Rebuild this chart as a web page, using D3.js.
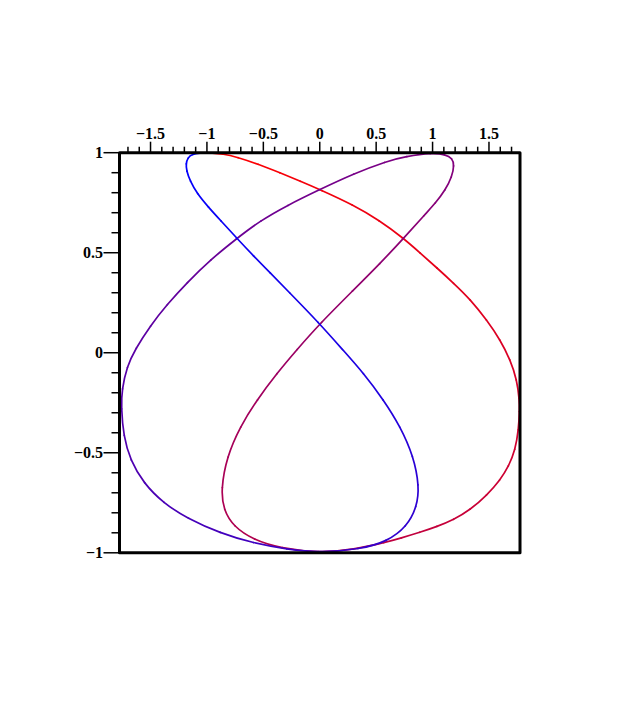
<!DOCTYPE html>
<html>
<head>
<meta charset="utf-8">
<script src="https://cdn.jsdelivr.net/npm/d3@7/dist/d3.min.js"></script>
<style>
  body { margin: 0; background: #fff; }
  .tick-label { font-family: "Liberation Serif", "DejaVu Serif", serif; font-size: 16px; font-weight: bold; }
</style>
</head>
<body>
<svg id="chart" width="640" height="706"></svg>
<script>
// curve, in plot units, in drawing order (red -> blue)
var curveX = [
  // red: top left, round the right side, to the bottom
  -1.00, -0.85, -0.734, -0.55, -0.35, -0.17, 0.00, 0.30, 0.527, 0.743, 0.891, 1.039, 1.186, 1.334,
  1.482, 1.600, 1.689, 1.748, 1.769, 1.771, 1.762, 1.733, 1.674, 1.600, 1.482, 1.334, 1.186, 1.039,
  0.891, 0.714, 0.596, 0.30, 0.00,
  // crimson: left inner loop, up the diagonal to the right tip
  -0.350, -0.587, -0.764, -0.853, -0.876, -0.823, -0.705, -0.557, -0.379, -0.205, 0.00,
  0.30, 0.536, 0.743, 0.940, 1.024, 1.113, 1.172, 1.192, 1.175, 1.113, 1.00,
  // purple: back across the top, round the left side, to the bottom
  0.758, 0.596, 0.30, 0.00, -0.291, -0.527, -0.734, -0.971, -1.177, -1.355, -1.502, -1.636,
  -1.709, -1.754, -1.760, -1.739, -1.680, -1.562, -1.385, -1.177, -0.882, -0.587, -0.291, 0.00,
  // blue: right inner loop, up the diagonal to the left tip
  0.359, 0.596, 0.773, 0.862, 0.882, 0.832, 0.714, 0.566, 0.388, 0.205, 0.00,
  -0.291, -0.439, -0.587, -0.734, -0.882, -0.986, -1.089, -1.150, -1.181, -1.186, -1.170, -1.130,
  -1.060, -1.00
];
var curveY = [
  1.00, 0.994, 0.978, 0.944, 0.899, 0.857, 0.816, 0.738, 0.662, 0.572, 0.498, 0.424, 0.348, 0.267,
  0.162, 0.064, -0.036, -0.136, -0.236, -0.286, -0.386, -0.485, -0.569, -0.635, -0.712, -0.785, -0.835, -0.869,
  -0.897, -0.927, -0.946, -0.984, -1.00,
  -0.977, -0.935, -0.869, -0.785, -0.685, -0.519, -0.369, -0.236, -0.102, 0.014, 0.145,
  0.314, 0.447, 0.572, 0.696, 0.747, 0.813, 0.880, 0.938, 0.972, 0.991, 1.00,
  0.981, 0.958, 0.895, 0.816, 0.736, 0.660, 0.572, 0.464, 0.350, 0.240, 0.135, 0.017,
  -0.069, -0.186, -0.269, -0.419, -0.535, -0.652, -0.752, -0.827, -0.902, -0.952, -0.982, -1.00,
  -0.982, -0.944, -0.869, -0.769, -0.669, -0.519, -0.369, -0.236, -0.102, 0.014, 0.145,
  0.314, 0.399, 0.484, 0.572, 0.663, 0.727, 0.797, 0.860, 0.910, 0.945, 0.975, 0.993,
  0.999, 1.00
];
var xDomain = [-1.775, 1.775];
var yDomain = [-1, 1];
var xMajorTicks = [-1.5, -1, -0.5, 0, 0.5, 1, 1.5];
var xMinorTicks = [-1.7, -1.6, -1.4, -1.3, -1.2, -1.1, -0.9, -0.8, -0.7, -0.6, -0.4, -0.3, -0.2, -0.1,
                   0.1, 0.2, 0.3, 0.4, 0.6, 0.7, 0.8, 0.9, 1.1, 1.2, 1.3, 1.4, 1.6, 1.7];
var yMajorTicks = [-1, -0.5, 0, 0.5, 1];
var yMinorTicks = [-0.9, -0.8, -0.7, -0.6, -0.4, -0.3, -0.2, -0.1, 0.1, 0.2, 0.3, 0.4, 0.6, 0.7, 0.8, 0.9];

var box = {left: 119.5, right: 520, top: 152.7, bottom: 552.8};

var x = d3.scaleLinear().domain(xDomain).range([box.left, box.right]);
var y = d3.scaleLinear().domain(yDomain).range([box.bottom, box.top]);

var svg = d3.select("#chart");

function fmt(v) { return String(v).replace("-", "\u2212"); }

// curve: let d3's b-spline build the pieces, then draw each one in its own colour
var pts = curveX.map(function(v, i) { return [x(v), y(curveY[i])]; });
var pieces = [], last = null;
var recorder = {
  moveTo: function(a, b) { last = [a, b]; },
  lineTo: function(a, b) { pieces.push({d: "M" + last + "L" + a + "," + b, a: last, b: [a, b]}); last = [a, b]; },
  bezierCurveTo: function(c1x, c1y, c2x, c2y, a, b) {
    pieces.push({d: "M" + last + "C" + [c1x, c1y, c2x, c2y, a, b].join(","), a: last, b: [a, b]});
    last = [a, b];
  },
  closePath: function() {}
};
d3.line().curve(d3.curveBasis).context(recorder)(pts);

// colour along the curve by arc length
var lens = pieces.map(function(p) { return Math.hypot(p.b[0] - p.a[0], p.b[1] - p.a[1]); });
var total = d3.sum(lens), run = 0;
var color = d3.interpolateRgb("#ff0000", "#0000ff");

svg.append("g")
  .selectAll("path")
  .data(pieces)
  .enter().append("path")
    .attr("d", function(d) { return d.d; })
    .attr("fill", "none")
    .attr("stroke-width", 1.7)
    .attr("stroke-linecap", "round")
    .attr("stroke", function(d, i) {
      var mid = run + lens[i] / 2;
      run += lens[i];
      return color(mid / total);
    });

// box
svg.append("rect")
  .attr("x", box.left).attr("y", box.top)
  .attr("width", box.right - box.left).attr("height", box.bottom - box.top)
  .attr("fill", "none")
  .attr("stroke", "#000")
  .attr("stroke-width", 3)
  .attr("stroke-linejoin", "round");

// top axis
var topAxis = svg.append("g");
topAxis.selectAll(".minor")
  .data(xMinorTicks)
  .enter().append("line")
    .attr("x1", function(d) { return x(d); }).attr("x2", function(d) { return x(d); })
    .attr("y1", box.top).attr("y2", box.top - 6)
    .attr("stroke", "#000").attr("stroke-width", 1.5);
topAxis.selectAll(".major")
  .data(xMajorTicks)
  .enter().append("line")
    .attr("x1", function(d) { return x(d); }).attr("x2", function(d) { return x(d); })
    .attr("y1", box.top).attr("y2", box.top - 11)
    .attr("stroke", "#000").attr("stroke-width", 1.5);
topAxis.selectAll("text")
  .data(xMajorTicks)
  .enter().append("text")
    .attr("class", "tick-label")
    .attr("x", function(d) { return x(d); })
    .attr("y", box.top - 13.7)
    .style("text-anchor", "middle")
    .text(fmt);

// left axis
var leftAxis = svg.append("g");
leftAxis.selectAll(".minor")
  .data(yMinorTicks)
  .enter().append("line")
    .attr("y1", function(d) { return y(d); }).attr("y2", function(d) { return y(d); })
    .attr("x1", box.left).attr("x2", box.left - 8)
    .attr("stroke", "#000").attr("stroke-width", 1.5);
leftAxis.selectAll(".major")
  .data(yMajorTicks)
  .enter().append("line")
    .attr("y1", function(d) { return y(d); }).attr("y2", function(d) { return y(d); })
    .attr("x1", box.left).attr("x2", box.left - 16)
    .attr("stroke", "#000").attr("stroke-width", 1.5);
leftAxis.selectAll("text")
  .data(yMajorTicks)
  .enter().append("text")
    .attr("class", "tick-label")
    .attr("x", box.left - 16.5)
    .attr("y", function(d) { return y(d); })
    .attr("dy", "0.35em")
    .style("text-anchor", "end")
    .text(fmt);
</script>
</body>
</html>
